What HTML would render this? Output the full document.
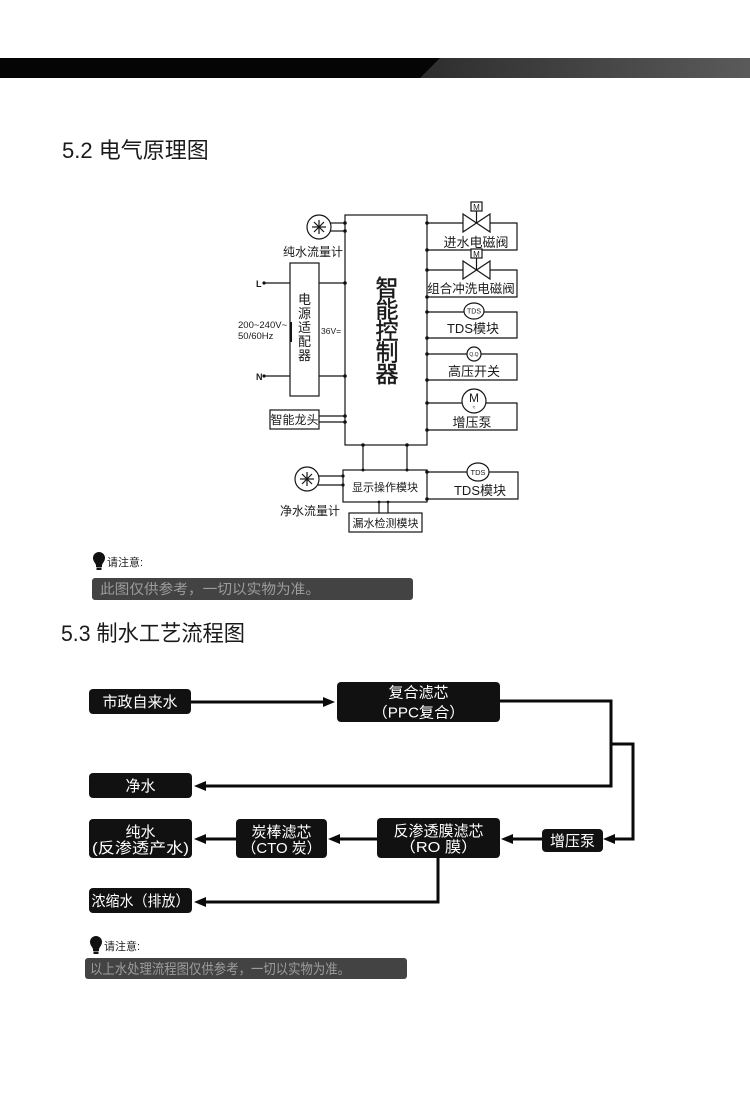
<!DOCTYPE html>
<html><head><meta charset="utf-8">
<style>
html,body{margin:0;padding:0;background:#fff;}
svg{display:block;}
text{font-family:"Liberation Sans","Noto Sans CJK SC",sans-serif;}
</style></head><body>
<svg width="750" height="1105" viewBox="0 0 750 1105" xmlns="http://www.w3.org/2000/svg">
<defs>
<linearGradient id="gb" x1="0" y1="0" x2="1" y2="0">
<stop offset="0" stop-color="#2c2c2c"/><stop offset="1" stop-color="#5a5a5a"/>
</linearGradient>
</defs>
<rect width="750" height="1105" fill="#fff"/>

<!-- top bar -->
<rect x="410" y="58" width="340" height="20" fill="url(#gb)"/>
<polygon points="0,58 440,58 420,78 0,78" fill="#050505"/>

<!-- headings -->
<text x="62" y="158" font-size="22" fill="#1a1a1a">5.2 电气原理图</text>
<text x="61" y="641" font-size="22" fill="#1a1a1a" textLength="184" lengthAdjust="spacingAndGlyphs">5.3 制水工艺流程图</text>

<!-- ===== Electrical diagram ===== -->
<g stroke="#151515" stroke-width="1.2" fill="none">
  <!-- controller -->
  <rect x="345" y="215" width="82" height="230"/>
  <!-- pure water flow meter -->
  <circle cx="319" cy="227" r="12"/>
  <line x1="312" y1="227" x2="326" y2="227"/>
  <line x1="319" y1="220" x2="319" y2="234"/>
  <line x1="314" y1="222" x2="324" y2="232"/>
  <line x1="324" y1="222" x2="314" y2="232"/>
  <line x1="330" y1="223" x2="345" y2="223"/>
  <line x1="330" y1="231" x2="345" y2="231"/>
  <!-- adapter -->
  <rect x="290" y="263" width="29" height="133"/>
  <line x1="264" y1="283" x2="290" y2="283"/>
  <line x1="264" y1="376" x2="290" y2="376"/>
  <line x1="319" y1="283" x2="345" y2="283"/>
  <line x1="319" y1="376" x2="345" y2="376"/>
  <line x1="291" y1="322" x2="291" y2="342" stroke-width="2"/>
  <!-- smart faucet -->
  <rect x="270" y="410" width="49" height="19"/>
  <line x1="319" y1="416" x2="345" y2="416"/>
  <line x1="319" y1="422" x2="345" y2="422"/>

  <!-- valve 1 -->
  <polyline points="427,223 463,223"/>
  <polyline points="490,223 517,223 517,250 427,250"/>
  <path d="M463,214 L490,232 L490,214 L463,232 Z" fill="#fff"/>
  <line x1="476.5" y1="223" x2="476.5" y2="211"/>
  <rect x="471" y="202" width="11" height="9" fill="#fff"/>
  <!-- valve 2 -->
  <polyline points="427,270 463,270"/>
  <polyline points="490,270 517,270 517,297 427,297"/>
  <path d="M463,261 L490,279 L490,261 L463,279 Z" fill="#fff"/>
  <line x1="476.5" y1="270" x2="476.5" y2="258"/>
  <rect x="471" y="249" width="11" height="9" fill="#fff"/>
  <!-- TDS -->
  <polyline points="427,312 464,312"/>
  <polyline points="484,312 517,312 517,338 427,338"/>
  <ellipse cx="474" cy="311" rx="10" ry="8" fill="#fff"/>
  <!-- high pressure switch -->
  <polyline points="427,354 467,354"/>
  <polyline points="481,354 517,354 517,380 427,380"/>
  <circle cx="474" cy="354" r="7" fill="#fff"/>
  <!-- pump -->
  <polyline points="427,403 462,403"/>
  <polyline points="486,403 517,403 517,430 427,430"/>
  <circle cx="474" cy="401" r="12" fill="#fff"/>

  <!-- bottom -->
  <line x1="363" y1="445" x2="363" y2="470"/>
  <line x1="407" y1="445" x2="407" y2="470"/>
  <rect x="343" y="470" width="84" height="32"/>
  <circle cx="307" cy="479" r="12"/>
  <line x1="300" y1="479" x2="314" y2="479"/>
  <line x1="307" y1="472" x2="307" y2="486"/>
  <line x1="302" y1="474" x2="312" y2="484"/>
  <line x1="312" y1="474" x2="302" y2="484"/>
  <line x1="318" y1="476" x2="343" y2="476"/>
  <line x1="318" y1="485" x2="343" y2="485"/>
  <polyline points="427,472 467,472"/>
  <polyline points="489,472 518,472 518,499 427,499"/>
  <ellipse cx="478" cy="472" rx="11" ry="9" fill="#fff"/>
  <line x1="379" y1="502" x2="379" y2="513"/>
  <line x1="388" y1="502" x2="388" y2="513"/>
  <rect x="349" y="513" width="73" height="19"/>
</g>

<!-- dots -->
<g fill="#111">
  <circle cx="345" cy="223" r="1.8"/><circle cx="345" cy="231" r="1.8"/>
  <circle cx="345" cy="283" r="1.8"/><circle cx="345" cy="376" r="1.8"/>
  <circle cx="345" cy="416" r="1.8"/><circle cx="345" cy="422" r="1.8"/>
  <circle cx="264" cy="283" r="1.6"/><circle cx="264" cy="376" r="1.6"/>
  <circle cx="427" cy="223" r="1.8"/><circle cx="427" cy="250" r="1.8"/>
  <circle cx="427" cy="270" r="1.8"/><circle cx="427" cy="297" r="1.8"/>
  <circle cx="427" cy="312" r="1.8"/><circle cx="427" cy="338" r="1.8"/>
  <circle cx="427" cy="354" r="1.8"/><circle cx="427" cy="380" r="1.8"/>
  <circle cx="427" cy="403" r="1.8"/><circle cx="427" cy="430" r="1.8"/>
  <circle cx="363" cy="445" r="1.8"/><circle cx="407" cy="445" r="1.8"/>
  <circle cx="363" cy="470" r="1.5"/><circle cx="407" cy="470" r="1.5"/>
  <circle cx="343" cy="476" r="1.6"/><circle cx="343" cy="485" r="1.6"/>
  <circle cx="427" cy="472" r="1.8"/><circle cx="427" cy="499" r="1.8"/>
  <circle cx="379" cy="502" r="1.4"/><circle cx="388" cy="502" r="1.4"/>
</g>

<!-- electrical labels -->
<g fill="#1a1a1a">
  <g font-size="23" text-anchor="middle" stroke="#1a1a1a" stroke-width="0.4">
    <text x="387" y="296">智</text>
    <text x="387" y="317.5">能</text>
    <text x="387" y="339">控</text>
    <text x="387" y="360.5">制</text>
    <text x="387" y="382">器</text>
  </g>
  <g font-size="13" text-anchor="middle">
    <text x="304.5" y="304">电</text>
    <text x="304.5" y="318">源</text>
    <text x="304.5" y="332">适</text>
    <text x="304.5" y="346">配</text>
    <text x="304.5" y="360">器</text>
  </g>
  <text x="313" y="256" font-size="12" text-anchor="middle">纯水流量计</text>
  <text x="256" y="287" font-size="9" font-weight="bold">L</text>
  <text x="256" y="380" font-size="9" font-weight="bold">N</text>
  <text x="238" y="328" font-size="9.5">200~240V~</text>
  <text x="238" y="339" font-size="9.5">50/60Hz</text>
  <text x="321" y="334" font-size="8.5">36V=</text>
  <text x="294.5" y="424" font-size="12" text-anchor="middle">智能龙头</text>

  <text x="476.5" y="210" font-size="8" text-anchor="middle">M</text>
  <text x="476.5" y="257" font-size="8" text-anchor="middle">M</text>
  <text x="476" y="247" font-size="13" text-anchor="middle">进水电磁阀</text>
  <text x="471" y="293" font-size="12.5" text-anchor="middle">组合冲洗电磁阀</text>
  <text x="474" y="313.5" font-size="7" text-anchor="middle">TDS</text>
  <text x="473" y="333" font-size="13" text-anchor="middle">TDS模块</text>
  <text x="474" y="356" font-size="5" text-anchor="middle">Q.Q</text>
  <text x="474" y="376" font-size="13" text-anchor="middle">高压开关</text>
  <text x="474" y="402" font-size="12" text-anchor="middle">M</text>
  <text x="474" y="409" font-size="5" text-anchor="middle">≈</text>
  <text x="472" y="427" font-size="13" text-anchor="middle">增压泵</text>

  <text x="385" y="491" font-size="11" text-anchor="middle">显示操作模块</text>
  <text x="478" y="475" font-size="7.5" text-anchor="middle">TDS</text>
  <text x="480" y="495" font-size="13" text-anchor="middle">TDS模块</text>
  <text x="310" y="515" font-size="12" text-anchor="middle">净水流量计</text>
  <text x="385.5" y="527" font-size="11" text-anchor="middle">漏水检测模块</text>
</g>

<!-- note 1 -->
<g fill="#111">
  <path d="M99,552 a6,6 0 0 1 6,6 c0,3 -2,4.5 -3,7 l0,2 h-6 l0,-2 c-1,-2.5 -3,-4 -3,-7 a6,6 0 0 1 6,-6 z"/>
  <rect x="96.5" y="567.5" width="5" height="2.5"/>
</g>
<text x="107" y="566" font-size="11" fill="#222">请注意:</text>
<rect x="92" y="578" width="321" height="22" rx="3" fill="#434343"/>
<text x="100" y="594" font-size="14" fill="#9c9c9c" textLength="220" lengthAdjust="spacingAndGlyphs">此图仅供参考，一切以实物为准。</text>

<!-- note 2 -->
<g fill="#111">
  <path d="M96,936 a6,6 0 0 1 6,6 c0,3 -2,4.5 -3,7 l0,2 h-6 l0,-2 c-1,-2.5 -3,-4 -3,-7 a6,6 0 0 1 6,-6 z"/>
  <rect x="93.5" y="951.5" width="5" height="2.5"/>
</g>
<text x="104" y="950" font-size="11" fill="#222">请注意:</text>
<rect x="85" y="958" width="322" height="21" rx="3" fill="#434343"/>
<text x="90" y="974" font-size="14" fill="#9c9c9c" textLength="260" lengthAdjust="spacingAndGlyphs">以上水处理流程图仅供参考，一切以实物为准。</text>

<!-- ===== Flow chart ===== -->
<g stroke="#0a0a0a" stroke-width="3" fill="none" stroke-linejoin="miter">
  <line x1="191" y1="702" x2="325" y2="702"/>
  <polyline points="500,701 611,701 611,786 204,786"/>
  <polyline points="611,744 633,744 633,839 613,839"/>
  <line x1="542" y1="839" x2="510" y2="839"/>
  <line x1="377" y1="839" x2="337" y2="839"/>
  <line x1="236" y1="839" x2="203" y2="839"/>
  <polyline points="438,858 438,902 204,902"/>
</g>
<g fill="#0a0a0a">
  <polygon points="335,702 323,697 323,707"/>
  <polygon points="194,786 206,781 206,791"/>
  <polygon points="603,839 615,834 615,844"/>
  <polygon points="501,839 513,834 513,844"/>
  <polygon points="328,839 340,834 340,844"/>
  <polygon points="194,839 206,834 206,844"/>
  <polygon points="194,902 206,897 206,907"/>
</g>
<g fill="#111">
  <rect x="89" y="689" width="102" height="25" rx="4"/>
  <rect x="337" y="682" width="163" height="40" rx="4"/>
  <rect x="89" y="773" width="103" height="25" rx="4"/>
  <rect x="89" y="819" width="103" height="39" rx="4"/>
  <rect x="236" y="819" width="91" height="39" rx="4"/>
  <rect x="377" y="818" width="123" height="40" rx="4"/>
  <rect x="542" y="829" width="61" height="23" rx="4"/>
  <rect x="89" y="888" width="103" height="25" rx="4"/>
</g>
<g fill="#fff" font-size="15" text-anchor="middle">
  <text x="140" y="707">市政自来水</text>
  <text x="418.5" y="697.5">复合滤芯</text>
  <text x="418.5" y="717.5" textLength="92" lengthAdjust="spacingAndGlyphs">（PPC复合）</text>
  <text x="140.5" y="791">净水</text>
  <text x="140.5" y="837">纯水</text>
  <text x="140.5" y="853" textLength="97" lengthAdjust="spacingAndGlyphs">(反渗透产水)</text>
  <text x="281.5" y="837">炭棒滤芯</text>
  <text x="281.5" y="853" textLength="80" lengthAdjust="spacingAndGlyphs">（CTO 炭）</text>
  <text x="438.5" y="836">反渗透膜滤芯</text>
  <text x="438.5" y="852" textLength="78" lengthAdjust="spacingAndGlyphs">（RO 膜）</text>
  <text x="572.5" y="846">增压泵</text>
  <text x="140.5" y="906" textLength="98" lengthAdjust="spacingAndGlyphs">浓缩水（排放）</text>
</g>
</svg>
</body></html>
